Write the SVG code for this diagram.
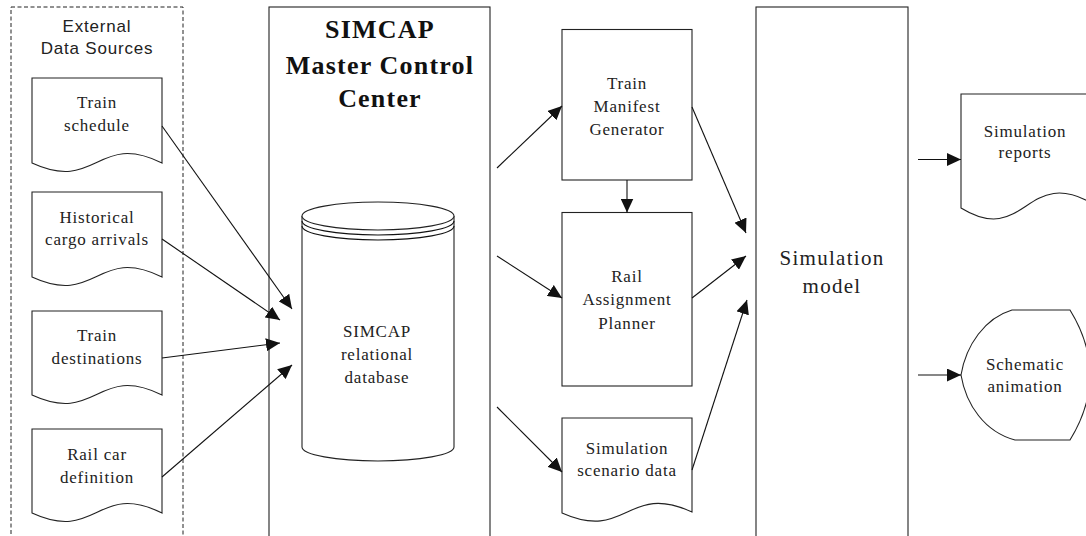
<svg xmlns="http://www.w3.org/2000/svg" width="1086" height="536" viewBox="0 0 1086 536">
<style>
.bx{fill:#fff;stroke:#222;stroke-width:1.1}
.dash{fill:none;stroke:#222;stroke-width:1;stroke-dasharray:4,2.5}
.t{font-family:"Liberation Serif","Times New Roman",serif;font-size:17px;letter-spacing:0.8px;fill:#222;text-anchor:middle}
.ts{font-family:"Liberation Sans",Arial,sans-serif;font-size:17px;letter-spacing:0.8px;fill:#222;text-anchor:middle}
.tb{font-family:"Liberation Serif","Times New Roman",serif;font-size:26px;font-weight:bold;letter-spacing:1.2px;fill:#111;text-anchor:middle}
.tl{font-family:"Liberation Serif","Times New Roman",serif;font-size:21px;letter-spacing:1.3px;fill:#222;text-anchor:middle}
.c{fill:none;stroke:#111;stroke-width:1.1}
</style>
<defs>
<marker id="ah" markerUnits="userSpaceOnUse" markerWidth="15" markerHeight="13" refX="14" refY="6.5" orient="auto">
<path d="M0,0 L14,6.5 L0,13 z" fill="#111"/>
</marker>
</defs>

<g id="external-sources">
<rect class="dash" x="11" y="7" width="172" height="540"/>
<text class="ts" x="97" y="31.5">External</text>
<text class="ts" x="97" y="53.5">Data Sources</text>
</g>

<g id="train-schedule">
<path class="bx" d="M32,78 H162 V163 C97,131 97,193 32,163 Z"/>
<text class="t" x="97" y="108">Train</text>
<text class="t" x="97" y="131">schedule</text>
</g>

<g id="historical-cargo">
<path class="bx" d="M32,192 H162 V277 C97,245 97,307 32,277 Z"/>
<text class="t" x="97" y="222.5">Historical</text>
<text class="t" x="97" y="245">cargo arrivals</text>
</g>

<g id="train-destinations">
<path class="bx" d="M32,311 H162 V395 C97,363 97,425 32,395 Z"/>
<text class="t" x="97" y="340.5">Train</text>
<text class="t" x="97" y="364">destinations</text>
</g>

<g id="rail-car-definition">
<path class="bx" d="M32,429 H162 V513 C97,481 97,543 32,513 Z"/>
<text class="t" x="97" y="460">Rail car</text>
<text class="t" x="97" y="482.5">definition</text>
</g>

<g id="master-control">
<rect class="bx" x="269" y="7" width="221" height="540"/>
<text class="tb" x="380" y="37.5">SIMCAP</text>
<text class="tb" x="380" y="73.5">Master Control</text>
<text class="tb" x="380" y="107">Center</text>
</g>

<g id="database">
<path class="bx" d="M302,216 V447 A76,14 0 0 0 454,447 V216"/>
<ellipse class="bx" cx="378" cy="216" rx="76" ry="14"/>
<path class="c" d="M302,221 A76,14 0 0 0 454,221"/>
<path class="c" d="M302,226 A76,14 0 0 0 454,226"/>
<text class="t" x="377" y="337">SIMCAP</text>
<text class="t" x="377" y="360">relational</text>
<text class="t" x="377" y="383">database</text>
</g>

<g id="train-manifest-generator">
<rect class="bx" x="562" y="29.5" width="130" height="150.5"/>
<text class="t" x="627" y="88.5">Train</text>
<text class="t" x="627" y="111.5">Manifest</text>
<text class="t" x="627" y="135">Generator</text>
</g>

<g id="rail-assignment-planner">
<rect class="bx" x="562" y="212.5" width="130" height="173.5"/>
<text class="t" x="627" y="282">Rail</text>
<text class="t" x="627" y="305">Assignment</text>
<text class="t" x="627" y="328.5">Planner</text>
</g>

<g id="simulation-scenario-data">
<path class="bx" d="M562,418 H692 V512 C627,482 627,542 562,513 Z"/>
<text class="t" x="627" y="453.5">Simulation</text>
<text class="t" x="627" y="475.5">scenario data</text>
</g>

<g id="simulation-model">
<rect class="bx" x="756" y="7" width="152" height="540"/>
<text class="tl" x="832" y="265">Simulation</text>
<text class="tl" x="832" y="293">model</text>
</g>

<g id="simulation-reports">
<path class="bx" d="M961,94 H1095 V205 C1026,163 1026,248 961,208 Z"/>
<text class="t" x="1025" y="137">Simulation</text>
<text class="t" x="1025" y="158">reports</text>
</g>

<g id="schematic-animation">
<path class="bx" d="M1012,310 H1070 Q1110,375 1070,440 H1015 C985,432 966,405 961,375 C966,345 985,318 1012,310 Z"/>
<text class="t" x="1025" y="369.5">Schematic</text>
<text class="t" x="1025" y="392">animation</text>
</g>

<g id="connectors">
<line class="c" x1="162" y1="126" x2="292" y2="309" marker-end="url(#ah)"/>
<line class="c" x1="162" y1="239" x2="280" y2="320" marker-end="url(#ah)"/>
<line class="c" x1="162" y1="358" x2="280" y2="343" marker-end="url(#ah)"/>
<line class="c" x1="162" y1="477" x2="292" y2="365" marker-end="url(#ah)"/>
<line class="c" x1="497" y1="168" x2="562" y2="106" marker-end="url(#ah)"/>
<line class="c" x1="497" y1="256" x2="562" y2="298" marker-end="url(#ah)"/>
<line class="c" x1="497" y1="407" x2="562" y2="472" marker-end="url(#ah)"/>
<line class="c" x1="627" y1="180" x2="627" y2="212.5" marker-end="url(#ah)"/>
<line class="c" x1="692" y1="107" x2="746" y2="233" marker-end="url(#ah)"/>
<line class="c" x1="692" y1="298" x2="746" y2="256" marker-end="url(#ah)"/>
<line class="c" x1="692" y1="470" x2="747" y2="300" marker-end="url(#ah)"/>
<line class="c" x1="918" y1="159.5" x2="961" y2="159.5" marker-end="url(#ah)"/>
<line class="c" x1="918" y1="375" x2="961" y2="375" marker-end="url(#ah)"/>
</g>
</svg>
